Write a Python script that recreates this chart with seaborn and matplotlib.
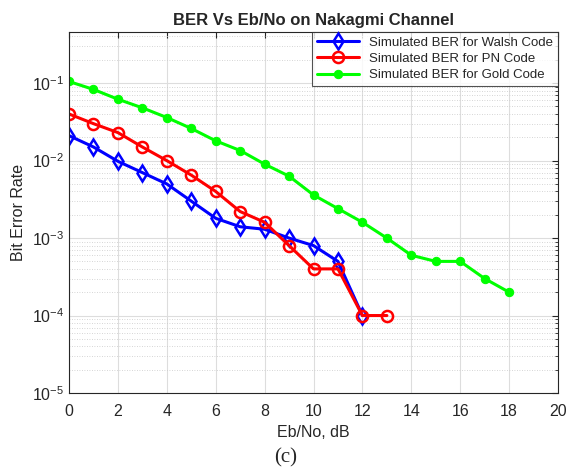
import numpy as np
import pandas as pd
import seaborn as sns
import matplotlib
matplotlib.use("Agg")
import matplotlib.pyplot as plt
from matplotlib.ticker import LogLocator, NullFormatter

walsh_x = list(range(0, 13))
walsh_ber = [0.021, 0.015, 0.0098, 0.007, 0.005, 0.003, 0.0018, 0.0014, 0.0013, 0.001, 0.0008, 0.0005, 0.0001]
pn_x = list(range(0, 14))
pn_ber = [0.04, 0.03, 0.023, 0.015, 0.01, 0.0065, 0.004, 0.0022, 0.0016, 0.0008, 0.0004, 0.0004, 0.0001, 0.0001]
gold_x = list(range(0, 19))
gold_ber = [0.105, 0.083, 0.062, 0.048, 0.036, 0.026, 0.018, 0.0135, 0.009, 0.0063, 0.0036,
            0.0024, 0.0016, 0.001, 0.0006, 0.0005, 0.0005, 0.0003, 0.0002]
labels = ["Simulated BER for Walsh Code", "Simulated BER for PN Code", "Simulated BER for Gold Code"]

sns.set_style("white")
plt.rcParams['font.family'] = ['Liberation Sans', 'DejaVu Sans']

fig = plt.figure(figsize=(5.71, 4.70), dpi=100)
ax = fig.add_axes([0.1208, 0.1638, 0.8565, 0.7681])

df_w = pd.DataFrame({"x": walsh_x, "y": walsh_ber})
df_p = pd.DataFrame({"x": pn_x, "y": pn_ber})
df_g = pd.DataFrame({"x": gold_x, "y": gold_ber})

sns.lineplot(data=df_w, x="x", y="y", ax=ax, color="#0000ff", lw=2.2, marker="d",
             markersize=8, markerfacecolor="none", markeredgecolor="#0000ff", markeredgewidth=1.8,
             label=labels[0])
sns.lineplot(data=df_p, x="x", y="y", ax=ax, color="#ff0000", lw=2.2, marker="o",
             markersize=8, markerfacecolor="none", markeredgecolor="#ff0000", markeredgewidth=1.8,
             label=labels[1])
sns.lineplot(data=df_g, x="x", y="y", ax=ax, color="#00ff00", lw=2.2, marker="o",
             markersize=6, markerfacecolor="#00ff00", markeredgecolor="#00ff00",
             label=labels[2])

ax.set_yscale("log")
ax.set_xlim(0, 20)
ax.set_ylim(1e-5, 10 ** -0.34)
ax.set_xticks(range(0, 21, 2))
ax.yaxis.set_major_locator(LogLocator(base=10, numticks=10))
ax.yaxis.set_minor_locator(LogLocator(base=10, subs=np.arange(2, 10), numticks=10))
ax.yaxis.set_minor_formatter(NullFormatter())

ax.grid(True, which="major", color="#dddddd", lw=0.8, ls="-")
ax.grid(True, which="minor", axis="y", color="#c8c8c8", lw=0.6, ls=(0, (1, 2)))
ax.set_axisbelow(True)
for s in ax.spines.values():
    s.set_color("#262626")
    s.set_linewidth(0.8)
ax.tick_params(axis="both", which="both", direction="in", labelsize=11.5, colors="#262626",
               top=True, right=True, length=4)
ax.tick_params(axis="x", pad=8)
ax.tick_params(axis="y", which="minor", length=2)

ax.set_xlabel("Eb/No, dB", fontsize=11.5, color="#262626", labelpad=4)
ax.set_ylabel("Bit Error Rate", fontsize=11.5, color="#262626")
ax.set_title("BER Vs Eb/No on Nakagmi Channel", fontsize=12, fontweight="bold", pad=5)

leg = ax.legend(loc="upper right", fontsize=9.5, frameon=True, fancybox=False,
                borderaxespad=0.0, handlelength=3.2, labelspacing=0.3, borderpad=0.35)
leg.get_frame().set_edgecolor("#262626")
leg.get_frame().set_linewidth(0.8)

fig.text(0.5, 0.005, "(c)", ha="center", va="bottom", fontsize=15, family="Liberation Serif")

fig.savefig("out.png", dpi=100)
